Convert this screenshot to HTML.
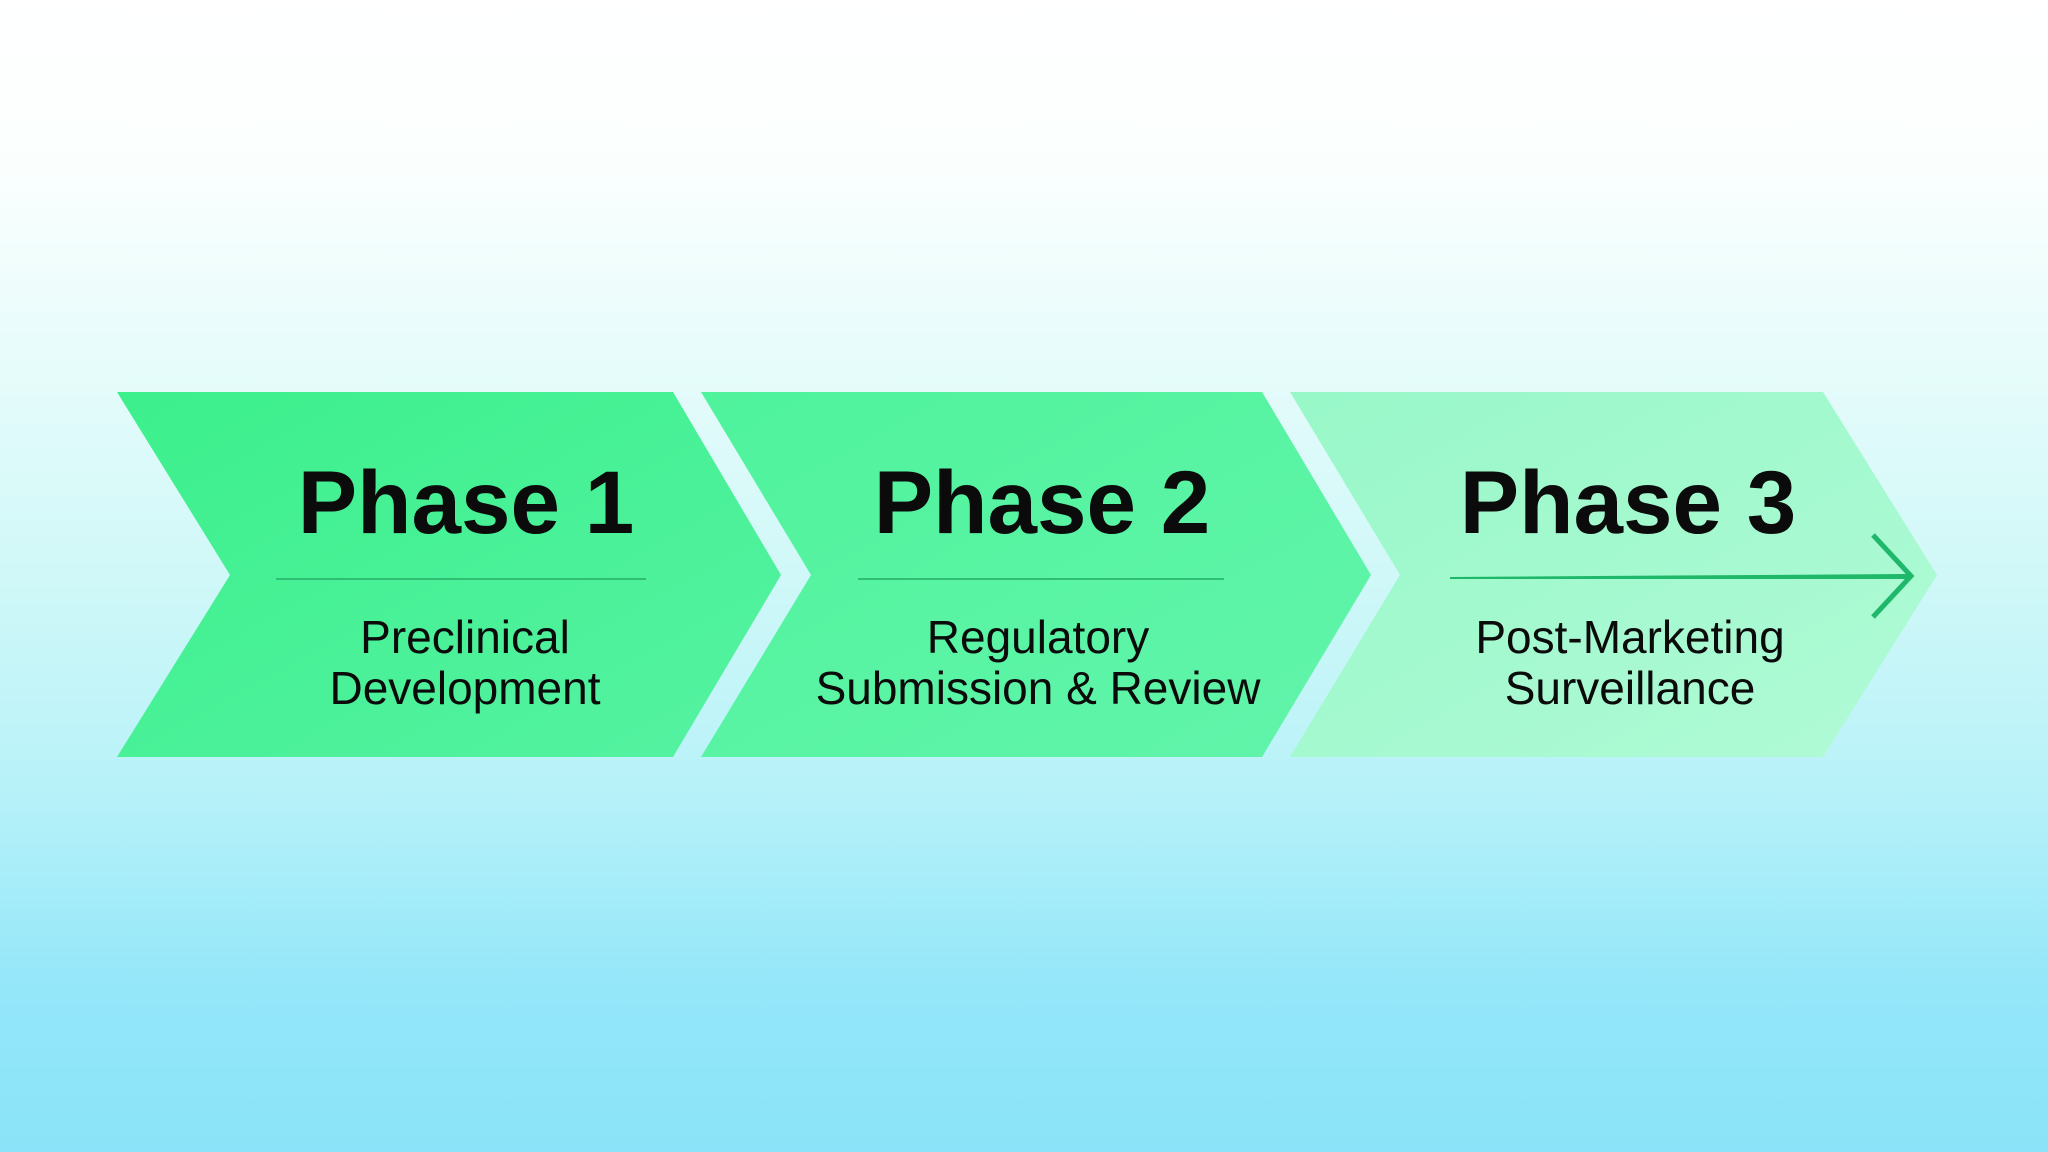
<!DOCTYPE html>
<html><head><meta charset="utf-8"><style>
html,body{margin:0;padding:0}
body{width:2048px;height:1152px;overflow:hidden;background:linear-gradient(180deg,#ffffff 0%,#fafffe 15%,#e8fcfb 30%,#d0f8f8 50%,#b8f2f9 68%,#95e7f9 85%,#8ae3f8 100%);font-family:"Liberation Sans",sans-serif}
svg{position:absolute;left:0;top:0}
</style></head><body>
<svg width="2048" height="1152" viewBox="0 0 2048 1152">
<defs>
<linearGradient id="g1" x1="0" y1="0" x2="1" y2="1"><stop offset="0" stop-color="#3cf08c"/><stop offset="1" stop-color="#55f2a2"/></linearGradient>
<linearGradient id="g2" x1="0" y1="0" x2="1" y2="1"><stop offset="0" stop-color="#4ff39c"/><stop offset="1" stop-color="#62f4ab"/></linearGradient>
<linearGradient id="g3" x1="0" y1="0" x2="1" y2="1"><stop offset="0" stop-color="#98f8c8"/><stop offset="1" stop-color="#b0fad6"/></linearGradient>
</defs>
<polygon points="117,392 673,392 781,575 673,757 117,757 230,575" fill="url(#g1)"/>
<polygon points="701,392 1262,392 1371,575 1262,757 701,757 811,575" fill="url(#g2)"/>
<polygon points="1290,392 1823,392 1937,575 1823,757 1290,757 1400,575" fill="url(#g3)"/>
<g font-family="Liberation Sans, sans-serif" font-weight="bold" font-size="89" fill="#0b0b0b" text-anchor="middle">
<text x="466" y="533">Phase 1</text>
<text x="1042" y="533">Phase 2</text>
<text x="1628" y="533">Phase 3</text>
</g>
<line x1="276" y1="579" x2="646" y2="579" stroke="#2fbf74" stroke-width="2"/>
<line x1="858" y1="579" x2="1224" y2="579" stroke="#2fbf74" stroke-width="2"/>
<polygon points="1450,577 1909,574 1909,579 1450,579" fill="#1fb86a"/>
<polyline points="1873,535 1911,576 1873,617" fill="none" stroke="#1fb86a" stroke-width="5"/>
<g font-family="Liberation Sans, sans-serif" font-size="46" fill="#0b0b0b" text-anchor="middle">
<text x="465" y="653">Preclinical</text>
<text x="465" y="704">Development</text>
<text x="1038" y="653">Regulatory</text>
<text x="1038" y="704">Submission &amp; Review</text>
<text x="1630" y="653">Post-Marketing</text>
<text x="1630" y="704">Surveillance</text>
</g>
</svg>
</body></html>
